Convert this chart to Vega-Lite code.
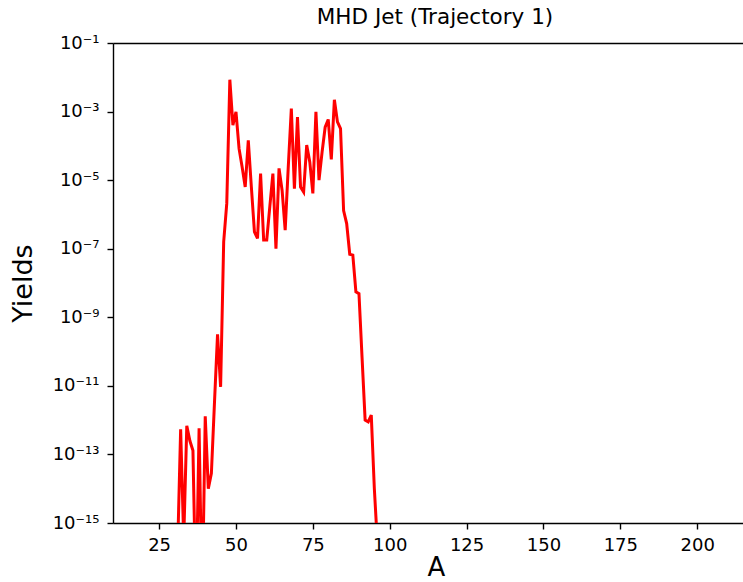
{
  "$schema": "https://vega.github.io/schema/vega-lite/v6.json",
  "width": 630,
  "height": 480,
  "autosize": "none",
  "padding": {"left": 113, "top": 43, "right": 0, "bottom": 59},
  "background": "white",
  "title": {"text": "MHD Jet (Trajectory 1)", "fontSize": 21.5, "fontWeight": "normal", "font": "DejaVu Sans", "color": "#000", "anchor": "middle", "dx": 7, "offset": 6},
  "config": {
    "font": "DejaVu Sans",
    "view": {"stroke": null},
    "axis": {"grid": false, "domainColor": "#000", "domainWidth": 1.4, "tickColor": "#000", "tickWidth": 1.4, "tickSize": 6, "labelColor": "#000", "labelFontSize": 18, "labelFont": "DejaVu Sans", "titleColor": "#000", "titleFont": "DejaVu Sans", "titleFontSize": 27, "titleFontWeight": "normal"}
  },
  "data": {"values": [
    {"A": 31, "Yield": 1.4e-16},
    {"A": 32, "Yield": 5.4e-13},
    {"A": 33, "Yield": 3.2e-16},
    {"A": 34, "Yield": 6.8e-13},
    {"A": 35, "Yield": 2.5e-13},
    {"A": 36, "Yield": 1.3e-13},
    {"A": 37, "Yield": 4e-18},
    {"A": 38, "Yield": 5.8e-13},
    {"A": 39, "Yield": 3.2e-18},
    {"A": 40, "Yield": 1.3e-12},
    {"A": 41, "Yield": 1.0e-14},
    {"A": 42, "Yield": 2.8e-14},
    {"A": 43, "Yield": 3.2e-12},
    {"A": 44, "Yield": 3.2e-10},
    {"A": 45, "Yield": 9.3e-12},
    {"A": 46, "Yield": 1.6e-7},
    {"A": 47, "Yield": 2.1e-6},
    {"A": 48, "Yield": 8.5e-3},
    {"A": 49, "Yield": 4.0e-4},
    {"A": 50, "Yield": 9.8e-4},
    {"A": 51, "Yield": 8.3e-5},
    {"A": 52, "Yield": 2.4e-5},
    {"A": 53, "Yield": 6.3e-6},
    {"A": 54, "Yield": 1.45e-4},
    {"A": 55, "Yield": 6.3e-6},
    {"A": 56, "Yield": 3.1e-7},
    {"A": 57, "Yield": 2.0e-7},
    {"A": 58, "Yield": 1.55e-5},
    {"A": 59, "Yield": 1.8e-7},
    {"A": 60, "Yield": 1.8e-7},
    {"A": 61, "Yield": 1.7e-6},
    {"A": 62, "Yield": 1.55e-5},
    {"A": 63, "Yield": 1.0e-7},
    {"A": 64, "Yield": 2.2e-5},
    {"A": 65, "Yield": 5.0e-6},
    {"A": 66, "Yield": 3.5e-7},
    {"A": 67, "Yield": 2.4e-5},
    {"A": 68, "Yield": 1.23e-3},
    {"A": 69, "Yield": 5.6e-6},
    {"A": 70, "Yield": 6.9e-4},
    {"A": 71, "Yield": 6.3e-6},
    {"A": 72, "Yield": 4.5e-6},
    {"A": 73, "Yield": 1.05e-4},
    {"A": 74, "Yield": 3.4e-5},
    {"A": 75, "Yield": 4.1e-6},
    {"A": 76, "Yield": 9.8e-4},
    {"A": 77, "Yield": 1.0e-5},
    {"A": 78, "Yield": 6.6e-5},
    {"A": 79, "Yield": 3.5e-4},
    {"A": 80, "Yield": 5.9e-4},
    {"A": 81, "Yield": 4.0e-5},
    {"A": 82, "Yield": 2.2e-3},
    {"A": 83, "Yield": 5.0e-4},
    {"A": 84, "Yield": 3.2e-4},
    {"A": 85, "Yield": 1.3e-6},
    {"A": 86, "Yield": 5.4e-7},
    {"A": 87, "Yield": 6.9e-8},
    {"A": 88, "Yield": 6.5e-8},
    {"A": 89, "Yield": 5.5e-9},
    {"A": 90, "Yield": 4.9e-9},
    {"A": 91, "Yield": 6.8e-11},
    {"A": 92, "Yield": 1.0e-12},
    {"A": 93, "Yield": 8.9e-13},
    {"A": 94, "Yield": 1.4e-12},
    {"A": 95, "Yield": 1.0e-14},
    {"A": 96, "Yield": 2.5e-16}
  ]},
  "layer": [
    {
      "mark": {"type": "line", "color": "#ff0000", "strokeWidth": 3, "clip": true},
      "encoding": {
        "x": {"field": "A", "type": "quantitative",
              "scale": {"domain": [10, 214.9], "nice": false, "zero": false},
              "axis": {"values": [25, 50, 75, 100, 125, 150, 175, 200], "labelPadding": 7, "title": "A", "titlePadding": 0, "titleFontSize": 26, "titleX": 323}},
        "y": {"field": "Yield", "type": "quantitative",
              "scale": {"type": "log", "domain": [1e-15, 0.1], "nice": false},
              "axis": {"values": [1e-15, 1e-13, 1e-11, 1e-9, 1e-7, 1e-5, 1e-3, 1e-1],
                       "labelExpr": "datum.value < 1e-14 ? '10⁻¹⁵' : datum.value < 1e-12 ? '10⁻¹³' : datum.value < 1e-10 ? '10⁻¹¹' : datum.value < 1e-8 ? '10⁻⁹' : datum.value < 1e-6 ? '10⁻⁷' : datum.value < 1e-4 ? '10⁻⁵' : datum.value < 1e-2 ? '10⁻³' : '10⁻¹'",
                       "labelPadding": 8, "title": "Yields", "titlePadding": 15}}
      }
    },
    {
      "mark": {"type": "line", "opacity": 0},
      "encoding": {
        "x": {"field": "A", "type": "quantitative",
              "axis": {"orient": "top", "labels": false, "ticks": false, "title": null, "domain": true}}
      }
    }
  ],
  "resolve": {"axis": {"x": "independent"}}
}
